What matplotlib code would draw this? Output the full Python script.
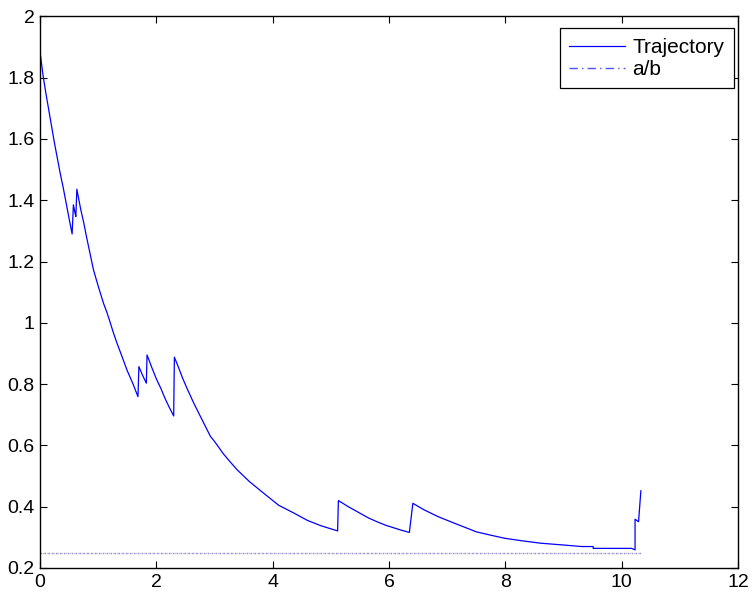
import numpy as np
import matplotlib.pyplot as plt

# trajectory (x, y), jumps given as repeated x
traj_x = [0.0, 0.05, 0.1, 0.15, 0.2, 0.25, 0.3, 0.35, 0.4, 0.45, 0.5, 0.552,
          0.574, 0.60, 0.616, 0.633,
          0.7, 0.75, 0.8, 0.85, 0.919, 1.0, 1.091, 1.15, 1.2, 1.264, 1.33, 1.4,
          1.495, 1.6, 1.684,
          1.70, 1.76, 1.828,
          1.84, 1.92, 2.0, 2.08, 2.15, 2.22, 2.298,
          2.31, 2.38, 2.45, 2.53, 2.643, 2.78, 2.931, 3.0, 3.15, 3.27, 3.391, 3.6,
          3.793, 4.1, 4.367, 4.6, 4.828, 4.98, 5.116,
          5.13, 5.3, 5.517, 5.65, 5.805, 5.95, 6.1, 6.2, 6.35,
          6.41, 6.6, 6.85, 7.126, 7.3, 7.5, 7.75, 7.988, 8.276, 8.6, 9.0, 9.31, 9.51,
          9.51, 10.17, 10.23,
          10.23, 10.29, 10.33]
traj_y = [1.885, 1.81, 1.75, 1.695, 1.64, 1.585, 1.535, 1.485, 1.44, 1.39, 1.34, 1.29,
          1.385, 1.36, 1.347, 1.436,
          1.37, 1.328, 1.28, 1.235, 1.173, 1.12, 1.064, 1.034, 1.005, 0.966, 0.93, 0.895,
          0.846, 0.80, 0.759,
          0.857, 0.83, 0.803,
          0.895, 0.855, 0.817, 0.785, 0.753, 0.725, 0.696,
          0.888, 0.855, 0.82, 0.785, 0.738, 0.686, 0.629, 0.613, 0.573, 0.546, 0.52, 0.482,
          0.452, 0.405, 0.379, 0.355, 0.338, 0.329, 0.321,
          0.42, 0.40, 0.377, 0.363, 0.350, 0.339, 0.330, 0.324, 0.316,
          0.411, 0.39, 0.367, 0.346, 0.333, 0.318, 0.307, 0.297, 0.289, 0.281, 0.275, 0.270, 0.270,
          0.264, 0.264, 0.259,
          0.359, 0.351, 0.452]

ab_value = 0.25
ab_x = [0.0, 10.33]

xticks = [0, 2, 4, 6, 8, 10, 12]
yticks = [0.2, 0.4, 0.6, 0.8, 1.0, 1.2, 1.4, 1.6, 1.8, 2.0]
ytick_labels = ['0.2', '0.4', '0.6', '0.8', '1', '1.2', '1.4', '1.6', '1.8', '2']

plt.rcParams['font.family'] = ['Liberation Sans', 'DejaVu Sans']

fig = plt.figure(figsize=(7.55, 5.97), dpi=100)
ax = fig.add_axes([0.053, 0.0486, 0.9245, 0.924])

ax.plot(traj_x, traj_y, color='#0000ff', lw=0.9, label='Trajectory')
ax.plot(ab_x, [ab_value, ab_value], color='#8c8cc8', lw=1.0,
        linestyle=(0, (1.2, 0.6, 0.4, 0.6)), label='a/b')

ax.set_xlim(0, 12)
ax.set_ylim(0.2, 2.0)
ax.set_xticks(xticks)
ax.set_yticks(yticks)
ax.set_yticklabels(ytick_labels)
ax.tick_params(direction='in', top=True, right=True, length=5, width=0.8,
               labelsize=14, pad=4)
for s in ax.spines.values():
    s.set_linewidth(1.0)

leg = ax.legend(loc='upper right', bbox_to_anchor=(0.994, 0.978), fontsize=15,
                fancybox=False, framealpha=1, edgecolor='black', borderaxespad=0,
                handlelength=2.7, handletextpad=0.35, borderpad=0.45,
                labelspacing=0.15)
leg.get_frame().set_linewidth(0.9)
leg.get_lines()[1].set_color('#5050ff')
leg.get_lines()[1].set_linestyle((0, (6, 3, 1, 3)))

fig.savefig('out.png', dpi=100)
